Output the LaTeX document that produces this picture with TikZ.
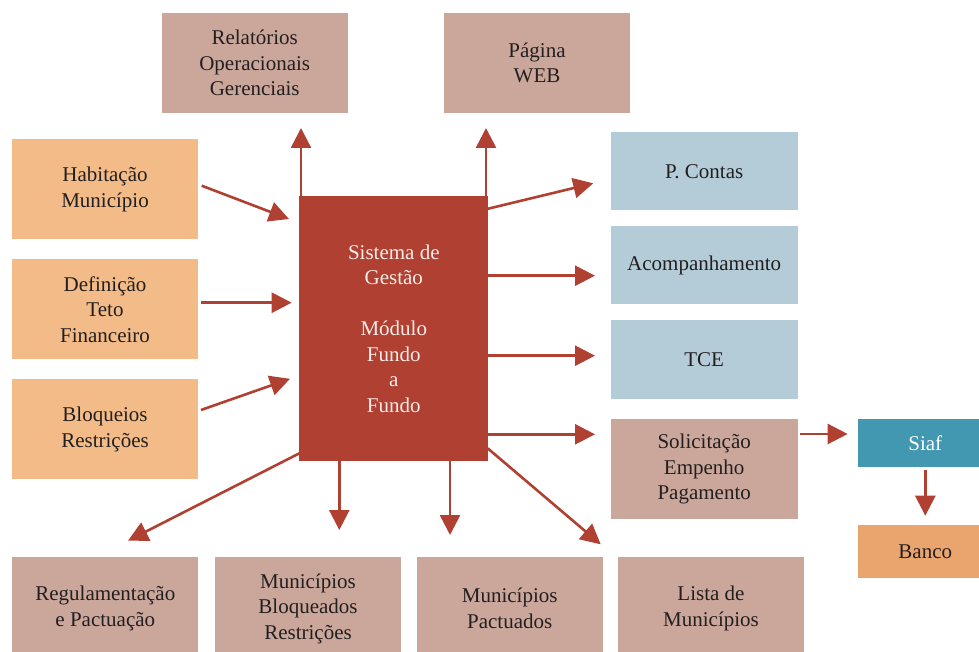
\documentclass[tikz,border=0pt]{standalone}
\usepackage{fontspec}
\setmainfont{Liberation Serif}
\usetikzlibrary{arrows.meta,calc}

\definecolor{rose}{HTML}{CBA79B}
\definecolor{sand}{HTML}{F3BB87}
\definecolor{sky}{HTML}{B4CCD8}
\definecolor{teal}{HTML}{4298B0}
\definecolor{peach}{HTML}{EAA46E}
\definecolor{brick}{HTML}{B04032}
\definecolor{ink}{HTML}{231F20}
\definecolor{paletext}{HTML}{F8ECE8}

\begin{document}
\begin{tikzpicture}[x=1pt,y=-1pt,
  box/.style={rectangle, inner sep=0pt, outer sep=0pt, align=center,
    text=ink, font=\fontsize{21}{25.5}\selectfont},
  wide/.style={box, minimum width=186pt, minimum height=100pt},
  side/.style={box, minimum width=187pt, minimum height=78.5pt, fill=sky},
  arr/.style={draw=brick, line width=2.6pt,
    -{Triangle[length=20pt,width=20pt]}},
]
\useasboundingbox (0,0) rectangle (979,652);

% top outputs
\node[wide, fill=rose] (rel) at (254.7,63) {Relatórios\\Operacionais\\Gerenciais};
\node[wide, fill=rose] (web) at (537,63) {Página\\WEB};

% left inputs
\node[wide, fill=sand] (hab) at (105,189.3) {Habitação\\Município};
\node[wide, fill=sand] (def) at (105,309.3) {Definição\\Teto\\Financeiro};
\node[wide, fill=sand] (blo) at (105,429.3) {Bloqueios\\Restrições};

% central system
\node[box, fill=brick, text=paletext, minimum width=189pt, minimum height=264.7pt]
  (sys) at (393.8,328.4)
  {Sistema de\\Gestão\\[25.5pt]Módulo\\Fundo\\a\\Fundo};

% right outputs
\node[side] (pc) at (704.2,171.2) {P. Contas};
\node[side] (acomp) at (704.2,265.2) {Acompanhamento};
\node[side] (tce) at (704.2,359.4) {TCE};
\node[box, fill=rose, minimum width=187pt, minimum height=99.7pt]
  (sol) at (704.2,469.2) {Solicitação\\Empenho\\Pagamento};
\node[box, fill=teal, text=white, minimum width=135.3pt, minimum height=47.4pt]
  (siaf) at (925.3,443) {Siaf};
\node[box, fill=peach, minimum width=135.3pt, minimum height=53pt]
  (banco) at (925.3,551.5) {Banco};

% bottom outputs
\node[box, fill=rose, minimum width=186pt, minimum height=102.4pt]
  (reg) at (105.3,608.5) {Regulamentação\\e Pactuação};
\node[box, fill=rose, minimum width=186pt, minimum height=102.4pt]
  (bloq) at (308,608.5) {Municípios\\Bloqueados\\Restrições};
\node[box, fill=rose, minimum width=186pt, minimum height=102.4pt]
  (pact) at (509.7,608.5) {Municípios\\Pactuados};
\node[box, fill=rose, minimum width=186pt, minimum height=102.4pt]
  (lista) at (711,608.5) {Lista de\\Municípios};

% arrows up
\draw[arr] ($(sys.north west)+(1.7,0)$) -- ($(sys.north west |- rel.south)+(1.7,15)$);
\draw[arr] ($(sys.north east)+(-2.3,0)$) -- ($(sys.north east |- web.south)+(-2.3,15)$);

% arrows in from the left
\draw[arr] ($(hab.east)+(3.7,-3.6)$) -- ($(sys.west)+(-10.3,-109.4)$);
\draw[arr] ($(def.east)+(2.7,-6.6)$) -- ($(sys.west)+(-7.6,-25.7)$);
\draw[arr] ($(blo.east)+(3,-19.3)$) -- ($(sys.west)+(-9.3,50.4)$);

% arrows out to the right
\draw[arr] ($(sys.north east)+(-1.6,13)$) -- ($(pc.west)+(-17.4,12.1)$);
\coordinate (tA) at ($(acomp.west)+(-15.7,10.5)$);
\coordinate (tT) at ($(tce.west)+(-15.7,-3.7)$);
\coordinate (tS) at ($(sol.west)+(-15.7,-34.9)$);
\coordinate (tF) at ($(siaf.west)+(-10,-9)$);
\draw[arr] (sys.east |- tA) -- (tA);
\draw[arr] (sys.east |- tT) -- (tT);
\draw[arr] (sys.east |- tS) -- (tS);
\draw[arr] ($(sol.east |- tF)+(2.3,0)$) -- (tF);
\draw[arr] ($(siaf.south)+(0,3.3)$) -- ($(banco.north)+(0,-9.3)$);

% arrows down
\draw[arr] ($(sys.south west)+(0,-7.4)$) -- ($(reg.north)+(22.7,-16.6)$);
\draw[arr] ($(sys.south west)+(40,0)$) -- ($(bloq.north)+(31.3,-27.3)$);
\draw[arr] ($(sys.south west)+(150.7,0)$) -- ($(pact.north)+(-59.7,-22.3)$);
\draw[arr] ($(sys.south east)+(-0.6,-12.4)$) -- ($(pact.north east)+(-2,-13)$);
\end{tikzpicture}
\end{document}
